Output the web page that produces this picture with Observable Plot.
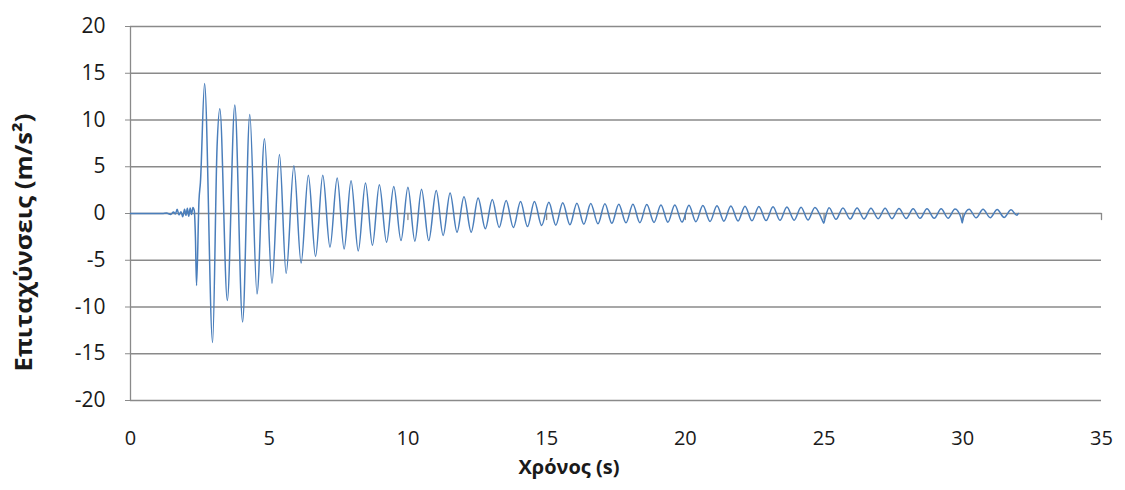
<!DOCTYPE html>
<html><head><meta charset="utf-8">
<script src="https://cdn.jsdelivr.net/npm/d3@7"></script>
<script src="https://cdn.jsdelivr.net/npm/@observablehq/plot@0.6"></script>
<style>body{margin:0;background:#fff}</style>
</head><body><div id="chart"></div>
<script>
// Time (s) of each read point of the record
const times = [
  0, 1.15, 1.3, 1.45, 1.55, 1.62, 1.68, 1.75, 1.82, 1.88, 1.95, 2.0, 2.05, 2.1, 2.15, 2.2, 2.25, 2.3, 2.34,
  2.38, 2.47, 2.52, 2.67, 2.96, 3.12, 3.22, 3.49, 3.76, 4.04, 4.30, 4.56, 4.83, 5.10, 5.37, 5.61, 5.89, 6.15,
  6.41, 6.67, 6.93, 7.19, 7.45, 7.70, 7.95, 8.21, 8.47, 8.72, 8.97, 9.23, 9.49, 9.75, 10.0, 10.25, 10.49, 10.75,
  11.02, 11.27, 11.52, 11.77, 12.02, 12.28, 12.53, 12.79, 13.04, 13.29, 13.54, 13.80, 14.06, 14.31, 14.56, 14.82,
  15.08, 15.33, 15.58, 15.84, 16.09, 16.34, 16.59, 16.85, 17.10, 17.35, 17.60, 17.86, 18.11, 18.36, 18.61, 18.87,
  19.12, 19.37, 19.62, 19.88, 20.13, 20.38, 20.63, 20.89, 21.14, 21.39, 21.64, 21.90, 22.15, 22.40, 22.65, 22.91,
  23.16, 23.41, 23.66, 23.92, 24.17, 24.42, 24.67, 24.93, 24.99, 25.03, 25.18, 25.43, 25.68, 25.94, 26.19, 26.44,
  26.69, 26.95, 27.20, 27.45, 27.70, 27.96, 28.21, 28.46, 28.71, 28.97, 29.22, 29.47, 29.72, 29.94, 29.98, 30.02,
  30.23, 30.48, 30.73, 30.99, 31.24, 31.49, 31.74, 31.95, 32.0
];
// Acceleration (m/s²) at those times
const accel = [
  0, 0, 0.05, -0.1, 0.15, -0.05, 0.45, -0.15, 0.2, -0.35, 0.45, -0.2, 0.55, -0.3, 0.6, -0.1, 0.65, 0.3, -2.5,
  -7.7, 1.5, 3.3, 13.9, -13.8, 7.1, 11.2, -9.3, 11.6, -11.6, 10.6, -8.6, 8.0, -7.45, 6.3, -6.4, 5.1, -5.3,
  4.1, -4.6, 4.1, -3.6, 3.8, -3.8, 3.5, -4.0, 3.25, -3.4, 3.07, -3.07, 2.9, -2.9, 2.8, -2.96, 2.6, -2.9,
  2.46, -2.35, 2.2, -2.0, 1.8, -2.0, 1.65, -1.64, 1.5, -1.5, 1.4, -1.5, 1.28, -1.39, 1.28, -1.28,
  1.2, -1.25, 1.15, -1.2, 1.1, -1.15, 1.08, -1.1, 1.05, -1.05, 1.0, -1.0, 0.98, -0.98, 0.95, -0.95,
  0.92, -0.93, 0.9, -0.92, 0.88, -0.88, 0.85, -0.85, 0.82, -0.82, 0.8, -0.8, 0.78, -0.78, 0.75, -0.76,
  0.72, -0.73, 0.7, -0.71, 0.68, -0.7, 0.65, -0.68, -1.03, -0.6, 0.62, -0.62, 0.6, -0.6, 0.58, -0.58,
  0.56, -0.56, 0.55, -0.55, 0.54, -0.54, 0.52, -0.52, 0.5, -0.52, 0.5, -0.5, 0.48, -0.5, -1.02, -0.45,
  0.46, -0.46, 0.45, -0.45, 0.42, -0.42, 0.4, -0.2, 0
];
const xTicks = [0, 5, 10, 15, 20, 25, 30, 35];
const yTicks = [-20, -15, -10, -5, 0, 5, 10, 15, 20];
const xTitle = "Χρόνος (s)";
const yTitle = "Επιταχύνσεις (m/s²)";

const data = times.map((t, i) => ({t, a: accel[i]}));
const gray = "#8a8a8a";
const tickShape = {draw(ctx, l) { ctx.moveTo(0, 0); ctx.lineTo(0, -l); }};
const fmt = d => String(d);

const chart = Plot.plot({
  width: 1125, height: 490,
  marginLeft: 130, marginRight: 24, marginTop: 26, marginBottom: 90,
  style: {fontFamily: "'Open Sans', sans-serif", fontSize: "20px", color: "#1a1a1a", background: "#fff"},
  x: {domain: [0, 35], ticks: xTicks},
  y: {domain: [-20, 20], ticks: yTicks},
  marks: [
    Plot.gridY(yTicks, {stroke: gray, strokeOpacity: 1, strokeWidth: 1.3}),
    Plot.ruleX([0], {stroke: gray, strokeWidth: 1.3}),
    Plot.vector(xTicks, {x: d => d, y: () => 0, length: 6, rotate: 180, anchor: "start", shape: tickShape, stroke: gray, strokeWidth: 1.3}),
    Plot.axisY(yTicks, {tickSize: 5, tickPadding: 20, stroke: gray, strokeOpacity: 1, label: null, fontSize: 21, tickFormat: fmt}),
    Plot.axisX(xTicks, {tickSize: 0, tickPadding: 30, label: null, fontSize: 20, tickFormat: fmt}),
    Plot.line(data, {x: "t", y: "a", curve: "monotone-x", stroke: "#4a7ebb", strokeWidth: 1.5}),
    Plot.text([xTitle], {frameAnchor: "bottom", dy: 73, dx: -47, fontWeight: "bold", fontSize: 20}),
    Plot.text([yTitle], {frameAnchor: "left", textAnchor: "middle", rotate: -90, dx: -106, dy: 29, fontWeight: "bold", fontSize: 23, className: "ytitle"})
  ]
});
const yt = chart.querySelector(".ytitle text");
if (yt) { yt.setAttribute("textLength", "258"); yt.setAttribute("lengthAdjust", "spacingAndGlyphs"); }
document.getElementById("chart").appendChild(chart);
</script>
</body></html>
